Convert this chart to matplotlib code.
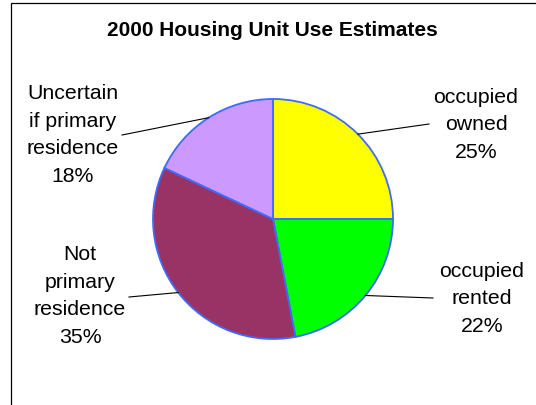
import matplotlib
matplotlib.use("Agg")
import matplotlib.pyplot as plt
from matplotlib.patches import Rectangle
import numpy as np

plt.rcParams['font.family'] = ['Liberation Sans', 'DejaVu Sans']

title = "2000 Housing Unit Use Estimates"
categories = ["occupied\nowned", "occupied\nrented", "Not\nprimary\nresidence", "Uncertain\nif primary\nresidence"]
values = [25, 22, 35, 18]
colors = ["#FFFF00", "#00FF00", "#993366", "#CC99FF"]

W, H = 536, 406
fig = plt.figure(figsize=(W / 100, H / 100), dpi=100)
ax = fig.add_axes([0, 0, 1, 1])
ax.set_xlim(0, W)
ax.set_ylim(0, H)
ax.set_aspect('equal')
ax.axis('off')

cx, cy, r = 273, H - 220, 120
wedges, _ = ax.pie(values, colors=colors, startangle=90, counterclock=False,
                   center=(cx, cy), radius=r, frame=True,
                   wedgeprops=dict(edgecolor="#3F6BFF", linewidth=1.3))
ax.set_xlim(0, W)
ax.set_ylim(0, H)
ax.axis('off')

# frame
ax.add_patch(Rectangle((10.5, -20), 600, H - 3.5 + 20, fill=False, edgecolor='black', linewidth=0.9))

ax.text(272, H - 30, title, ha='center', va='center', fontsize=15, fontweight='bold')

label_pos = [(476, H - 125), (482, H - 299), (80, H - 296), (73, H - 135)]
line_end = [(429, H - 125), (433, H - 299), (129, H - 298), (122, H - 136)]
for w, cat, v, (lx, ly), (ex, ey) in zip(wedges, categories, values, label_pos, line_end):
    ang = np.deg2rad((w.theta1 + w.theta2) / 2)
    sx, sy = cx + r * np.cos(ang), cy + r * np.sin(ang)
    ax.plot([sx, ex], [sy, ey], color='black', linewidth=0.8)
    ax.text(lx, ly, f"{cat}\n{v}%", ha='center', va='center', fontsize=15.3, linespacing=1.58)

fig.savefig("out.png", dpi=100)
